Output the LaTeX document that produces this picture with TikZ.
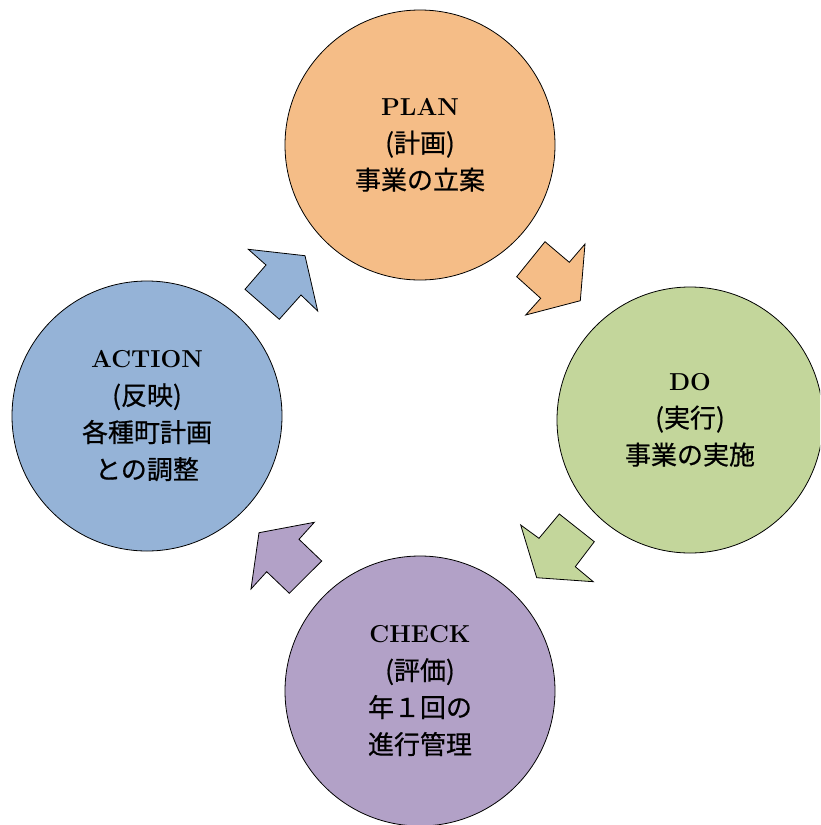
\documentclass[tikz,border=0pt]{standalone}
\usepackage{fontspec}
\newfontfamily\jp[FakeBold=0.6]{Noto Sans CJK JP}
\definecolor{cplan}{HTML}{F5BD87}
\definecolor{cdo}{HTML}{C3D69B}
\definecolor{ccheck}{HTML}{B2A1C7}
\definecolor{caction}{HTML}{95B3D7}
\newcommand{\lat}[1]{{\rmfamily\bfseries\fontsize{24.5}{37}\selectfont #1}}
\tikzset{
  phase/.style={circle, draw=black, line width=0.8pt, minimum size=270pt, inner sep=0pt,
    align=center, font=\jp\fontsize{26}{37}\selectfont, text=black},
  blockarrow/.style={draw=black, line width=0.8pt, line join=miter}
}
\begin{document}
\begin{tikzpicture}[x=1pt,y=-1pt]
\useasboundingbox (0,0) rectangle (820,825);
\clip (0,0) rectangle (820,825);
\node[phase, fill=cplan] (plan) at (420,145) {\lat{PLAN}\\(計画)\\事業の立案};
\node[phase, fill=cdo, minimum size=266pt] (do) at (690,420) {\lat{DO}\\(実行)\\事業の実施};
\node[phase, fill=ccheck] (check) at (420,691) {\lat{CHECK}\\(評価)\\年１回の\\進行管理};
\node[phase, fill=caction] (action) at (147,416) {\lat{ACTION}\\(反映)\\各種町計画\\との調整};
% ACTION -> PLAN
\draw[blockarrow, fill=caction] (248.3,249.3) -- (305,255.7) -- (317.7,311) -- (301,295)
  -- (279.3,319.3) -- (245,289.3) -- (266,265) -- cycle;
% PLAN -> DO
\draw[blockarrow, fill=cplan] (545,241.7) -- (569.3,262.3) -- (585,244) -- (580.3,300.7)
  -- (525.7,315) -- (540.7,298.3) -- (516.7,276.7) -- cycle;
% DO -> CHECK
\draw[blockarrow, fill=cdo] (559.3,514) -- (594.3,541.7) -- (575.3,566.7) -- (593.3,581.7)
  -- (536.7,577.7) -- (520.7,525) -- (539,538.3) -- cycle;
% CHECK -> ACTION
\draw[blockarrow, fill=ccheck] (314.3,522.3) -- (299,539.3) -- (321.7,561) -- (289.3,593.3)
  -- (266.7,571.7) -- (251,589) -- (259,532.7) -- cycle;
\end{tikzpicture}
\end{document}
